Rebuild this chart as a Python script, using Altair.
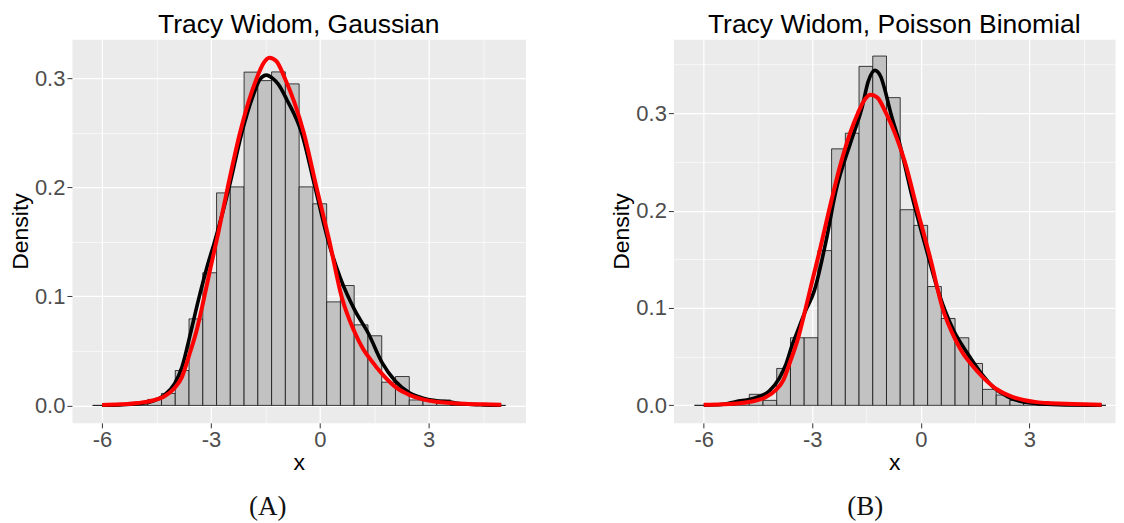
import altair as alt
import pandas as pd

# ---------------- data ----------------
bin_edges = [-6.259, -5.879, -5.500, -5.121, -4.741, -4.362, -3.983, -3.603, -3.224, -2.845,
             -2.466, -2.086, -1.707, -1.328, -0.948, -0.569, -0.190, 0.190, 0.569, 0.948,
             1.328, 1.707, 2.086, 2.466, 2.845, 3.224, 3.603, 3.983, 4.362, 4.741, 5.121]

dens_a = [0, 0, 0, 0.003, 0.0055, 0.011, 0.032, 0.0794, 0.1217, 0.195,
          0.2005, 0.3058, 0.298, 0.306, 0.295, 0.2005, 0.185, 0.095, 0.110, 0.0739,
          0.0639, 0.0213, 0.0265, 0.005, 0.005, 0.005, 0, 0, 0, 0]

dens_b = [0, 0, 0, 0.003, 0.0113, 0.0051, 0.0379, 0.0694, 0.0694, 0.1589,
          0.2634, 0.2795, 0.3481, 0.3587, 0.316, 0.2009, 0.1848, 0.122, 0.0892, 0.0694,
          0.043, 0.0164, 0.0106, 0.005, 0.002, 0, 0, 0, 0, 0]

# Tracy-Widom reference density (red)
tw_x = [-6.0, -5.5, -5.0, -4.6, -4.3, -4.0, -3.8, -3.6, -3.4, -3.2, -3.0, -2.8, -2.55, -2.2,
        -1.95, -1.74, -1.55, -1.39, -1.2, -0.96, -0.7, -0.44, -0.09, 0.27, 0.6, 0.95, 1.19,
        1.4, 1.74, 2.1, 2.48, 2.84, 3.2, 3.6, 4.0, 4.5, 5.0]
tw_y = [0.0005, 0.001, 0.0022, 0.0045, 0.008, 0.016, 0.026, 0.046, 0.068, 0.097, 0.128, 0.158,
        0.198, 0.250, 0.280, 0.300, 0.314, 0.319, 0.316, 0.300, 0.278, 0.250, 0.200, 0.150,
        0.100, 0.068, 0.052, 0.042, 0.028, 0.0165, 0.0095, 0.0055, 0.0033, 0.0022, 0.0015,
        0.0010, 0.0007]

# kernel density estimate, panel A (black)
kde_a_x = [-6.0, -5.5, -5.0, -4.6, -4.3, -4.0, -3.8, -3.55, -3.32, -3.1, -2.9, -2.5, -2.15,
           -1.85, -1.65, -1.47, -1.3, -1.15, -0.9, -0.5, -0.13, 0.24, 0.57, 0.96, 1.34, 1.72,
           2.09, 2.47, 2.84, 3.21, 3.58, 4.0, 4.5, 5.0]
kde_a_y = [0.0002, 0.0005, 0.0015, 0.004, 0.009, 0.02, 0.035, 0.068, 0.100, 0.128, 0.150,
           0.200, 0.250, 0.283, 0.299, 0.303, 0.300, 0.295, 0.280, 0.250, 0.200, 0.150, 0.1165,
           0.0876, 0.066, 0.039, 0.022, 0.0116, 0.0067, 0.0043, 0.003, 0.0013, 0.0005, 0.0002]

# kernel density estimate, panel B (black)
kde_b_x = [-6.0, -5.5, -5.12, -4.56, -4.19, -3.91, -3.73, -3.55, -3.41, -3.2, -2.95, -2.62,
           -2.35, -1.93, -1.63, -1.45, -1.27, -1.1, -1.0, -0.83, -0.6, -0.23, 0.14, 0.51, 0.92,
           1.28, 1.65, 2.0, 2.4, 2.81, 3.36, 4.0, 5.0]
kde_b_y = [0.0002, 0.0008, 0.0037, 0.0078, 0.0147, 0.028, 0.042, 0.0625, 0.076, 0.096, 0.117,
           0.1686, 0.2197, 0.271, 0.305, 0.333, 0.344, 0.337, 0.325, 0.300, 0.271, 0.213, 0.162,
           0.114, 0.076, 0.054, 0.034, 0.019, 0.009, 0.0037, 0.0014, 0.0004, 0.0001]

x_ticks = [-6, -4.5, -3, -1.5, 0, 1.5, 3, 4.5]
y_ticks_a = [0, 0.05, 0.1, 0.15, 0.2, 0.25, 0.3]
y_ticks_b = [0, 0.05, 0.1, 0.15, 0.2, 0.25, 0.3, 0.35]

FONT = "Liberation Sans"
X_MAJOR = "datum.value % 3 == 0"
Y_MAJOR = "abs(datum.value * 10 - round(datum.value * 10)) < 0.000001"


def panel(title, dens, kx, ky, width, xdom, ydom, yticks, caption, cap_x):
    bars = pd.DataFrame({"x0": bin_edges[:-1], "x1": bin_edges[1:], "d": dens,
                         "z": [0.0] * len(dens)})
    red = pd.DataFrame({"x": tw_x, "y": tw_y})
    black = pd.DataFrame({"x": kx, "y": ky})
    xs = alt.Scale(domain=xdom, nice=False, zero=False)
    ys = alt.Scale(domain=ydom, nice=False, zero=False)
    xaxis = alt.Axis(
        values=x_ticks, title="x",
        labelExpr=X_MAJOR + " ? toString(datum.value) : ''",
        gridWidth={"condition": {"test": X_MAJOR, "value": 1.2}, "value": 0.6},
        tickOpacity={"condition": {"test": X_MAJOR, "value": 1}, "value": 0},
    )
    yaxis = alt.Axis(
        values=yticks, title="Density",
        labelExpr=Y_MAJOR + " ? format(datum.value, '.1f') : ''",
        gridWidth={"condition": {"test": Y_MAJOR, "value": 1.2}, "value": 0.6},
        tickOpacity={"condition": {"test": Y_MAJOR, "value": 1}, "value": 0},
    )
    hist = alt.Chart(bars).mark_rect(fill="#C2C2C2", stroke="#111111", strokeWidth=0.8).encode(
        x=alt.X("x0:Q", scale=xs, axis=xaxis),
        x2="x1:Q",
        y=alt.Y("d:Q", scale=ys, axis=yaxis),
        y2="z:Q",
    )
    kde = alt.Chart(black).mark_line(color="black", strokeWidth=3.6, interpolate="monotone").encode(
        x="x:Q", y="y:Q")
    tw = alt.Chart(red).mark_line(color="#FF0000", strokeWidth=4, interpolate="monotone").encode(
        x="x:Q", y="y:Q")
    cap = alt.Chart(pd.DataFrame({"t": [caption]})).mark_text(
        font="Liberation Serif", fontSize=27, baseline="middle", align="center", color="#111111"
    ).encode(text="t:N", x=alt.value(cap_x), y=alt.value(468))
    return alt.layer(hist, kde, tw, cap).properties(
        width=width, height=384,
        title=alt.TitleParams(title, fontSize=26.5, font=FONT, anchor="middle", color="black",
                              fontWeight="normal", offset=1),
    )


pa = panel("Tracy Widom, Gaussian", dens_a, kde_a_x, kde_a_y, 454,
           [-6.83, 5.67], [-0.016, 0.336], y_ticks_a, "(A)", 196)
pb = panel("Tracy Widom, Poisson Binomial", dens_b, kde_b_x, kde_b_y, 442,
           [-6.84, 5.37], [-0.018, 0.376], y_ticks_b, "(B)", 192)

chart = alt.hconcat(pa, pb, spacing=148, bounds="flush").properties(
    padding={"left": 0, "top": 3, "right": 0, "bottom": 0}
).configure_view(fill="#EBEBEB", stroke="transparent").configure_axis(
    domain=False, grid=True, gridColor="#FFFFFF",
    labelFont=FONT, labelFontSize=22, labelColor="#4D4D4D", labelPadding=2,
    tickColor="#333333", tickSize=5, tickWidth=1,
    titleFont=FONT, titleFontSize=23, titleColor="black", titleFontWeight="normal",
).configure_axisY(titlePadding=2).configure_axisX(titlePadding=1)

chart.save("out.html", embed_options={"renderer": "svg", "actions": False})
